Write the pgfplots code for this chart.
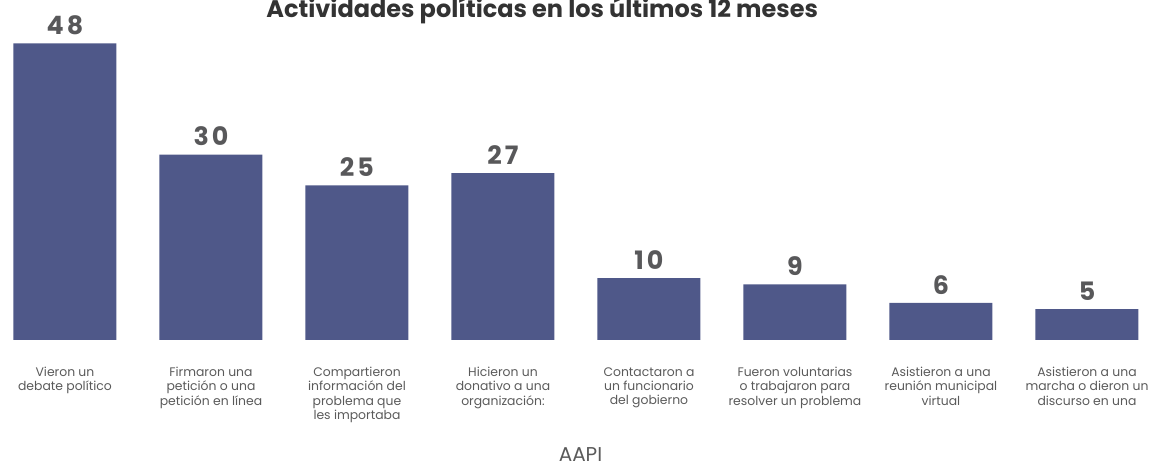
\documentclass[border=0pt]{standalone}
\usepackage{pgfplots}
\pgfplotsset{compat=1.18}
\usepackage{fontspec}
\setmainfont{Poppins}
\definecolor{barblue}{HTML}{4F5889}
\definecolor{labelgray}{HTML}{5A5A5A}
\definecolor{valgray}{HTML}{58585A}
\definecolor{titlegray}{HTML}{333333}
\begin{document}
\begin{tikzpicture}
\begin{axis}[
  scale only axis,
  width=870.75pt, height=255pt,
  xmin=-0.445, xmax=7.507, ymin=0, ymax=55,
  clip=false,
  axis line style={draw=none},
  ymajorticks=false,
  xtick=data,
  major tick length=0pt,
  /pgf/number format/assume math mode=true,
  xticklabels={{Vieron un\\debate político},
               {Firmaron una\\petición o una\\petición en línea},
               {Compartieron\\información del\\problema que\\les importaba},
               {Hicieron un\\donativo a una\\organización:},
               {Contactaron a\\un funcionario\\del gobierno},
               {Fueron voluntarias\\o trabajaron para\\resolver un problema},
               {Asistieron a una\\reunión municipal\\virtual},
               {Asistieron a una\\marcha o dieron un\\discurso en una}},
  xticklabel style={anchor=north, align=center, text=labelgray,
    font=\fontsize{9.3}{10.6}\selectfont, yshift=-17pt},
  ybar, bar width=77.25pt,
  nodes near coords,
  nodes near coords style={
    font=\bfseries\fontsize{19}{19}\selectfont\addfontfeature{LetterSpace=12},
    text=valgray, anchor=south, yshift=3pt},
  xlabel=AAPI,
  xlabel style={at={(axis description cs:0.5,0)}, anchor=center,
    yshift=-86pt, font=\fontsize{15}{15}\selectfont, text=labelgray},
  title={Actividades políticas en los últimos 12 meses},
  title style={at={(axis description cs:0.467,1)}, anchor=base,
    yshift=-19.5pt, font=\bfseries\fontsize{18}{18}\selectfont, text=titlegray},
]
\addplot[fill=barblue, draw=none] coordinates {
  (0,48) (1,30) (2,25) (3,27) (4,10) (5,9) (6,6) (7,5)};
\end{axis}
\pgfresetboundingbox
\path[use as bounding box] ([yshift=-98.25pt]current axis.south west)
  rectangle (current axis.north east);
\end{tikzpicture}
\end{document}
